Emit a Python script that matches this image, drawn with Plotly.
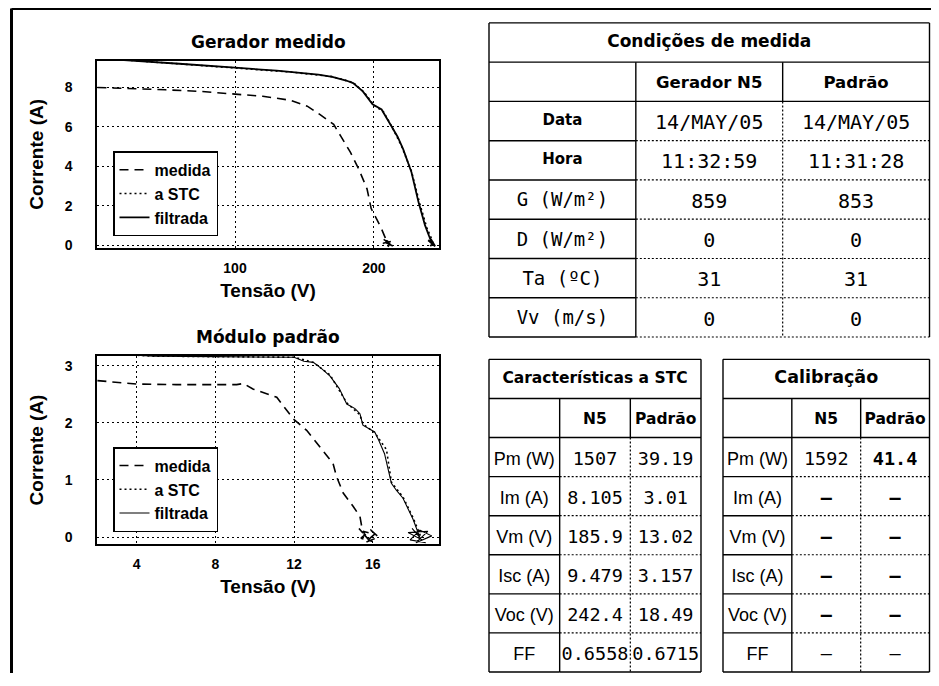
import plotly.graph_objects as go

# ---------------- data : Gerador medido ----------------
gen_medida_v = [1, 25, 50, 75, 100, 120, 140, 152, 161, 171, 176, 183, 189, 195, 198, 202, 205, 208, 209,
                207, 212, 208, 214, 209, 211, 206.5, 213, 210]
gen_medida_i = [8.0, 7.95, 7.88, 7.8, 7.67, 7.55, 7.35, 7.05, 6.63, 6.13, 5.54, 4.72, 3.87, 2.86, 1.86, 1.35, 0.9, 0.4, 0.2,
                0.3, 0.05, 0.15, -0.05, 0.25, 0.0, 0.1, 0.2, -0.08]
gen_stc_v = [0, 30, 60, 100, 140, 170, 185, 193, 200, 207, 213, 220, 227, 233, 238, 241, 243]
gen_stc_i = [9.5, 9.34, 9.2, 9.0, 8.78, 8.55, 8.25, 7.75, 7.1, 6.75, 6.0, 5.0, 3.75, 2.1, 0.9, 0.4, 0.0]
gen_filt_v = [0, 31, 60, 100, 130, 160, 170, 180, 185, 192, 199, 205.5, 212.7, 217, 221, 227, 232, 236.7, 239.5, 241.5, 242.4,
              240, 243, 239, 244, 241, 242.5, 240.5]
gen_filt_i = [9.48, 9.35, 9.2, 9.0, 8.85, 8.65, 8.53, 8.35, 8.22, 7.8, 7.14, 6.88, 6.05, 5.5, 4.87, 3.7, 2.2, 1.02, 0.5, 0.15, 0.0,
              0.4, 0.05, 0.25, -0.05, 0.3, 0.1, -0.05]

# ---------------- data : Módulo padrão ----------------
mod_medida_v = [2.0, 4, 6, 8, 9.08, 9.42, 9.93, 11.12, 11.54, 11.96, 12.64, 13.3, 13.98, 14.16, 14.5, 15.0, 15.35, 15.5,
                15.3, 15.8, 15.5, 16.1, 15.6, 16.3, 15.9, 15.4, 16.0]
mod_medida_i = [2.74, 2.68, 2.67, 2.67, 2.67, 2.69, 2.59, 2.45, 2.25, 2.07, 1.87, 1.58, 1.29, 1.06, 0.77, 0.54, 0.36, 0.07,
                0.15, -0.05, 0.1, 0.05, -0.1, 0.0, 0.12, -0.02, -0.08]
mod_stc_v = [2.0, 4.9, 8, 10.6, 12.0, 12.98, 13.83, 14.68, 15.35, 15.5, 16.1, 16.7, 16.95, 17.54, 18.05, 18.45]
mod_stc_i = [3.22, 3.17, 3.16, 3.16, 3.15, 3.06, 2.84, 2.35, 2.14, 1.98, 1.83, 1.53, 0.96, 0.7, 0.34, 0.0]
mod_filt_v = [2.0, 4.9, 8, 10.6, 11.5, 12.0, 12.5, 12.98, 13.4, 13.83, 14.3, 14.68, 15.1, 15.35, 15.5, 16.1, 16.3, 16.6,
              16.95, 17.2, 17.54, 18.05, 18.39,
              18.0, 18.5, 17.8, 18.8, 18.2, 19.0, 18.4, 17.9, 18.7]
mod_filt_i = [3.22, 3.17, 3.16, 3.16, 3.15, 3.15, 3.08, 3.06, 2.95, 2.82, 2.6, 2.33, 2.25, 2.16, 1.96, 1.84, 1.7, 1.46,
              0.94, 0.82, 0.68, 0.31, 0.0,
              0.15, -0.05, 0.08, 0.1, -0.1, 0.02, 0.12, -0.05, -0.1]

series_names = ["medida", "a STC", "filtrada"]
gen_xticks = [100, 200]
gen_yticks = [0, 2, 4, 6, 8]
mod_xticks = [4, 8, 12, 16]
mod_yticks = [0, 1, 2, 3]

# ---------------- data : tables ----------------
cond_title = "Condições de medida"
cond_heads = ["Gerador N5", "Padrão"]
cond_rows = ["Data", "Hora", "G (W/m²)", "D (W/m²)", "Ta (ºC)", "Vv (m/s)"]
cond_n5 = ["14/MAY/05", "11:32:59", "859", "0", "31", "0"]
cond_pad = ["14/MAY/05", "11:31:28", "853", "0", "31", "0"]

stc_title = "Características a STC"
cal_title = "Calibração"
par_heads = ["N5", "Padrão"]
par_rows = ["Pm (W)", "Im (A)", "Vm (V)", "Isc (A)", "Voc (V)", "FF"]
stc_n5 = ["1507", "8.105", "185.9", "9.479", "242.4", "0.6558"]
stc_pad = ["39.19", "3.01", "13.02", "3.157", "18.49", "0.6715"]
cal_n5 = ["1592", "–", "–", "–", "–", "–"]
cal_pad = ["41.4", "–", "–", "–", "–", "–"]

# ---------------- layout helpers ----------------
# the page body has an 8px margin and the visible page ends 8px before the
# right window edge, so positions are given in window pixels shifted by 8.
OFF = 8
W, H = 939 - OFF, 686 - 2 * OFF
RIGHT = 929.5          # right-most drawable table border (window px)
SANS = "Liberation Sans, Arial, sans-serif"
NARROW = "Liberation Sans Narrow, Arial Narrow, Liberation Sans, sans-serif"
TFONT = "DejaVu Sans, Verdana, sans-serif"
MONO = "DejaVu Sans Mono, monospace"


def px(a):
    return (a - OFF) / W


def py(a):
    return 1 - (a - OFF) / H


def xdom(a, b):
    return [max(0, px(a)), min(1, px(b))]


def ydom(top, bot):
    return [max(0, py(bot)), min(1, py(top))]


fig = go.Figure()


def curve(x, y, name, dash, width, xa, ya, leg):
    fig.add_trace(go.Scatter(x=x, y=y, mode="lines", name=name, xaxis=xa, yaxis=ya, legend=leg,
                             line=dict(color="black", width=width, dash=dash), hoverinfo="skip"))


DASH = "9px,6px"
DOT = "2px,3px"
curve(gen_medida_v, gen_medida_i, series_names[0], DASH, 1.6, "x", "y", "legend")
curve(gen_stc_v, gen_stc_i, series_names[1], DOT, 1.6, "x", "y", "legend")
curve(gen_filt_v, gen_filt_i, series_names[2], "solid", 1.8, "x", "y", "legend")
curve(mod_medida_v, mod_medida_i, series_names[0], DASH, 1.6, "x2", "y2", "legend2")
curve(mod_stc_v, mod_stc_i, series_names[1], DOT, 1.6, "x2", "y2", "legend2")
curve(mod_filt_v, mod_filt_i, series_names[2], "solid", 1.1, "x2", "y2", "legend2")

tickfont = dict(family=NARROW, size=14, color="black", weight="bold")
titlefont = dict(family=SANS, size=19, color="black", weight="bold")


def xaxis(dom, rng, ticks):
    return dict(domain=dom, range=rng, tickvals=ticks, showgrid=True, gridcolor="black", griddash="2px,3px",
                gridwidth=1, zeroline=False, showline=True, mirror=True, linecolor="black", linewidth=1.5,
                ticks="", tickfont=tickfont, ticklabelstandoff=6, fixedrange=True,
                title=dict(text="Tensão (V)", font=titlefont, standoff=9))


def yaxis(dom, rng, ticks):
    return dict(domain=dom, range=rng, tickvals=ticks, showgrid=True, gridcolor="black", griddash="2px,3px",
                gridwidth=1, zeroline=False, showline=True, mirror=True, linecolor="black", linewidth=1.5,
                ticks="", tickfont=tickfont, ticklabelstandoff=20, fixedrange=True,
                title=dict(text="Corrente (A)", font=titlefont, standoff=16))


legfont = dict(family=SANS, size=16, color="black", weight="bold")

fig.update_layout(
    width=W, height=H, autosize=False,
    margin=dict(l=0, r=0, t=0, b=0),
    paper_bgcolor="white", plot_bgcolor="rgba(0,0,0,0)",
    xaxis=dict(xaxis(xdom(97, 439), [0.7, 246.8], gen_xticks), anchor="y"),
    yaxis=dict(yaxis(ydom(61, 250), [-0.15, 9.36], gen_yticks), anchor="x"),
    xaxis2=dict(xaxis(xdom(97, 439), [1.98, 19.37], mod_xticks), anchor="y2"),
    yaxis2=dict(yaxis(ydom(358.3, 548.3), [-0.127, 3.177], mod_yticks), anchor="x2"),
    legend=dict(x=px(113), y=py(238), xanchor="left", yanchor="bottom", bgcolor="white",
                bordercolor="black", borderwidth=1.5, font=legfont, tracegroupgap=0, itemwidth=30),
    legend2=dict(x=px(113), y=py(536), xanchor="left", yanchor="bottom", bgcolor="white",
                 bordercolor="black", borderwidth=1.5, font=legfont, tracegroupgap=0, itemwidth=30),
    showlegend=True,
)

for ax, ttl in (("x", "Gerador medido"), ("x2", "Módulo padrão")):
    ya = "y" if ax == "x" else "y2"
    fig.add_annotation(text=ttl, xref=ax + " domain", yref=ya + " domain", x=0.5, y=1, yanchor="bottom",
                       yshift=7, showarrow=False, font=dict(family=TFONT, size=17, color="black", weight="bold"))

# ---------------- tables ----------------
NCOL, NROW = 3, 8


def table_axes(n, box, pad=2):
    x0, x1, y0, y1 = box
    sx = (x1 - x0) / NCOL
    sy = (y1 - y0) / NROW
    d0, d1 = xdom(x0 - pad, x1 + pad)
    e0, e1 = ydom(y0 - pad, y1 + pad)
    xl = (x0 - OFF) - d0 * W
    xr = d1 * W - (x1 - OFF)
    yt = (y0 - OFF) - (1 - e1) * H
    yb = (1 - e0) * H - (y1 - OFF)
    fig.layout[f"xaxis{n}"] = dict(domain=[d0, d1], range=[-xl / sx, NCOL + xr / sx],
                                   visible=False, fixedrange=True, anchor=f"y{n}")
    fig.layout[f"yaxis{n}"] = dict(domain=[e0, e1], range=[NROW + yb / sy, -yt / sy],
                                   visible=False, fixedrange=True, anchor=f"x{n}")


def seg(n, xa, ya, xb, yb, dotted=False):
    fig.add_shape(type="line", xref=f"x{n}", yref=f"y{n}", x0=xa, y0=ya, x1=xb, y1=yb, layer="above",
                  line=dict(color="black", width=1.2 if dotted else 1.4, dash="2px,2px" if dotted else "solid"))


def table_grid(n, dotted_bottom):
    seg(n, 0, 0, 3, 0)
    seg(n, 0, 0, 0, 8)
    seg(n, 3, 0, 3, 8)
    seg(n, 0, 1, 3, 1)
    seg(n, 0, 2, 3, 2)
    seg(n, 1, 1, 1, 8)
    seg(n, 2, 1, 2, 2)
    seg(n, 2, 2, 2, 8, True)
    for r in range(3, 8):
        seg(n, 0, r, 1, r)
        seg(n, 1, r, 3, r, True)
    seg(n, 0, 8, 1, 8)
    seg(n, 1, 8, 3, 8, dotted_bottom)


def text(n, xs, ys, txt, family, size, bold=False, color="black"):
    fig.add_trace(go.Scatter(x=xs, y=ys, text=txt, mode="text", textposition="middle center",
                             xaxis=f"x{n}", yaxis=f"y{n}", showlegend=False, hoverinfo="skip",
                             textfont=dict(family=family, size=size, color=color,
                                           weight="bold" if bold else "normal")))


# Table 1 : Condições de medida
table_axes(3, (489, RIGHT, 23, 339.5))
table_grid(3, True)
text(3, [1.5], [0.5], [cond_title], TFONT, 17, True)
text(3, [1.5, 2.5], [1.55, 1.55], cond_heads, TFONT, 16.5, True)
text(3, [0.5, 0.5], [2.5, 3.5], cond_rows[:2], TFONT, 15, True)
text(3, [0.5] * 4, [4.55, 5.55, 6.55, 7.55], cond_rows[2:], MONO, 19)
text(3, [1.5] * 6, [r + 2.58 for r in range(6)], cond_n5, MONO, 20)
text(3, [2.5] * 6, [r + 2.58 for r in range(6)], cond_pad, MONO, 20)

TB = 677
# Table 2 : Características a STC
table_axes(4, (489, 701, 362, TB))
table_grid(4, False)
text(4, [1.5], [0.5], [stc_title], TFONT, 15.5, True)
text(4, [1.5, 2.5], [1.55, 1.55], par_heads, TFONT, 15.5, True)
text(4, [0.5] * 6, [r + 2.58 for r in range(6)], par_rows, SANS, 18)
text(4, [1.5] * 6, [r + 2.58 for r in range(6)], stc_n5, MONO, 18.5)
text(4, [2.5] * 6, [r + 2.58 for r in range(6)], stc_pad, MONO, 18.5)

# Table 3 : Calibração
table_axes(5, (723, RIGHT, 362, TB))
table_grid(5, False)
text(5, [1.5], [0.5], [cal_title], TFONT, 17.5, True)
text(5, [1.5, 2.5], [1.55, 1.55], par_heads, TFONT, 15.5, True)
text(5, [0.5] * 6, [r + 2.58 for r in range(6)], par_rows, SANS, 18)
text(5, [1.5], [2.58], cal_n5[:1], MONO, 18.5)
text(5, [2.5], [2.58], cal_pad[:1], MONO, 18.5, True)
text(5, [1.5] * 4 + [2.5] * 4, [r + 2.58 for r in range(1, 5)] * 2, cal_n5[1:5] + cal_pad[1:5], MONO, 18.5, True)
text(5, [1.5, 2.5], [7.58, 7.58], [cal_n5[5], cal_pad[5]], MONO, 18.5)

# outer panel frame
fx, fy = px(11.5), py(8.5)
fig.add_shape(type="line", xref="paper", yref="paper", x0=fx, y0=0, x1=fx, y1=fy, line=dict(color="black", width=3))
fig.add_shape(type="line", xref="paper", yref="paper", x0=fx, y0=fy, x1=1, y1=fy, line=dict(color="black", width=3))

fig.write_html("out.html")
